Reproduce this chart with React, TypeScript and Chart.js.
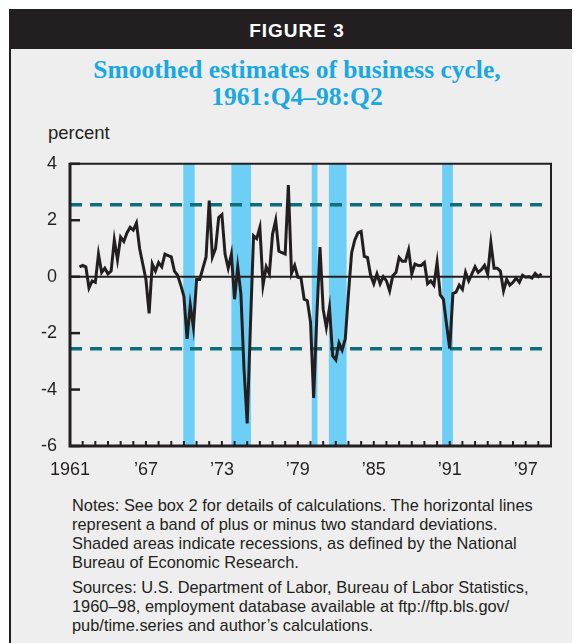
import React, { useEffect, useRef } from "react";
import { Chart, registerables } from "chart.js";

Chart.register(...registerables);

// ---- data ----
const startYear = 1961.75; // 1961:Q4
const quarterStep = 0.25;
const cycleValues = [
  0.35, 0.4, 0.35, -0.4, -0.15, -0.2, 0.8, 0.15, 0.3, 0.1,
  0.2, 1.3, 0.6, 1.4, 1.25, 1.55, 1.75, 1.65, 1.9, 1.0,
  0.45, -0.1, -1.3, 0.45, 0.2, 0.5, 0.35, 0.8, 0.75, 0.7,
  0.2, 0.05, -0.3, -0.7, -2.2, -1.0, -1.8, -0.1, -0.1, 0.3,
  0.7, 2.7, 0.7, 1.0, 2.1, 2.2, 0.8, 0.3, 0.8, -0.8,
  0.35, -0.6, -3.3, -5.2, -1.8, 1.45, 1.35, 1.75, -0.3, 0.35,
  0.1, 1.5, 2.0, 0.9, 0.85, 0.8, 3.25, 0.12, 0.4, -0.02,
  -0.05, -0.8, -0.85, -1.6, -4.3, -1.4, 1.05, -1.15, -1.8, -1.1,
  -2.8, -2.95, -2.35, -2.6, -2.2, -0.6, 0.85, 1.3, 1.55, 1.6,
  0.72, 0.68, 0.05, -0.25, 0.1, -0.25, 0.0, -0.15, -0.5, 0.03,
  0.15, 0.68, 0.55, 0.55, 0.95, 0.1, 0.45, 0.4, 0.4, 0.5,
  -0.25, -0.15, -0.3, 0.5, -0.65, -0.8, -1.7, -2.55, -0.6, -0.55,
  -0.3, -0.45, 0.15, -0.15, 0.1, 0.35, 0.15, 0.25, 0.4, 0.1,
  1.2, 0.3, 0.3, 0.2, -0.5, -0.1, -0.3, -0.2, -0.05, -0.2,
  0.05, -0.02, 0.0, -0.05, 0.12, 0.0, 0.1,
];
const recessionStarts = [1969.95, 1973.75, 1980.1, 1981.45, 1990.4];
const recessionEnds = [1970.85, 1975.3, 1980.55, 1982.85, 1991.25];
const bandLevel = 2.55;
const xMin = 1961;
const xMax = 1999;
const xTickYears = [1961, 1967, 1973, 1979, 1985, 1991, 1997];
const yMin = -6;
const yMax = 4;
const yStep = 2;

const notesLines = [
  "Notes: See box 2 for details of calculations. The horizontal lines",
  "represent a band of plus or minus two standard deviations.",
  "Shaded areas indicate recessions, as defined by the National",
  "Bureau of Economic Research.",
];
const sourcesLines = [
  "Sources: U.S. Department of Labor, Bureau of Labor Statistics,",
  "1960\u201398, employment database available at ftp://ftp.bls.gov/",
  "pub/time.series and author\u2019s calculations.",
];

const INK = "#231f20";
const SANS = "'Liberation Sans', Arial, sans-serif";

const framePlugin = {
  id: "frame",
  beforeDatasetsDraw(chart: any) {
    const { ctx, chartArea, scales } = chart;
    const { left, right, top, bottom } = chartArea;
    const x = scales.x;
    const y = scales.y;
    ctx.save();
    ctx.fillStyle = "#6dcff6";
    recessionStarts.forEach((s, i) => {
      const xa = x.getPixelForValue(s);
      const xb = x.getPixelForValue(recessionEnds[i]);
      ctx.fillRect(xa, top, xb - xa, bottom - top);
    });
    const y0 = y.getPixelForValue(0);
    ctx.strokeStyle = INK;
    ctx.lineWidth = 2;
    ctx.beginPath();
    ctx.moveTo(left, y0);
    ctx.lineTo(right, y0);
    ctx.stroke();
    ctx.restore();
  },
  afterDatasetsDraw(chart: any) {
    const { ctx, chartArea, scales } = chart;
    const { left, right, top, bottom } = chartArea;
    const x = scales.x;
    const y = scales.y;
    ctx.save();
    ctx.strokeStyle = INK;
    ctx.lineWidth = 2;
    ctx.beginPath();
    ctx.moveTo(left, top);
    ctx.lineTo(right, top);
    ctx.lineTo(right, bottom);
    ctx.stroke();
    ctx.lineWidth = 3;
    ctx.beginPath();
    ctx.moveTo(left, top - 1);
    ctx.lineTo(left, bottom);
    ctx.lineTo(right + 1, bottom);
    ctx.stroke();
    ctx.lineWidth = 2.5;
    for (let v = yMin; v <= yMax; v += yStep) {
      const py = y.getPixelForValue(v);
      ctx.beginPath();
      ctx.moveTo(left, py);
      ctx.lineTo(left + 10, py);
      ctx.stroke();
    }
    ctx.lineWidth = 2;
    for (let yr = xMin + 1; yr < xMax; yr++) {
      const px = x.getPixelForValue(yr);
      ctx.beginPath();
      ctx.moveTo(px, bottom);
      ctx.lineTo(px, bottom - 5);
      ctx.stroke();
    }
    ctx.restore();
  },
};

function CycleChart() {
  const ref = useRef<HTMLCanvasElement | null>(null);
  useEffect(() => {
    if (!ref.current) return;
    const points = cycleValues.map((v, i) => ({ x: startYear + i * quarterStep, y: v }));
    const band = (lvl: number) => [
      { x: xMin, y: lvl },
      { x: xMax, y: lvl },
    ];
    const chart = new Chart(ref.current, {
      type: "line",
      data: {
        datasets: [
          {
            data: points,
            borderColor: INK,
            borderWidth: 3,
            pointRadius: 0,
            tension: 0,
            fill: false,
          },
          {
            data: band(bandLevel),
            borderColor: "#0f6e7c",
            borderWidth: 3.5,
            borderDash: [12, 8],
            pointRadius: 0,
            fill: false,
          },
          {
            data: band(-bandLevel),
            borderColor: "#0f6e7c",
            borderWidth: 3.5,
            borderDash: [12, 8],
            pointRadius: 0,
            fill: false,
          },
        ],
      },
      options: {
        responsive: false,
        animation: false,
        events: [],
        layout: { padding: { left: 0, right: 24, top: 20, bottom: 4 } },
        plugins: { legend: { display: false }, tooltip: { enabled: false } },
        scales: {
          x: {
            type: "linear",
            min: xMin,
            max: xMax,
            afterBuildTicks: (s: any) => {
              s.ticks = xTickYears.map((v) => ({ value: v }));
            },
            afterFit: (s: any) => {
              s.height = 40;
            },
            grid: { display: false, drawTicks: false },
            border: { display: false },
            ticks: {
              padding: 13,
              autoSkip: false,
              maxRotation: 0,
              color: INK,
              font: { family: SANS, size: 18 },
              callback: (v: any) => (v === 1961 ? "1961" : "\u2019" + String(v).slice(2)),
            },
          },
          y: {
            min: yMin,
            max: yMax,
            afterFit: (s: any) => {
              s.width = 70;
            },
            grid: { display: false, drawTicks: false },
            border: { display: false },
            ticks: {
              stepSize: yStep,
              padding: 13,
              color: INK,
              font: { family: SANS, size: 18 },
              callback: (v: any) => String(v),
            },
          },
        },
      },
      plugins: [framePlugin],
    });
    return () => chart.destroy();
  }, []);
  return (
    <canvas
      ref={ref}
      width={575}
      height={350}
      style={{ position: "absolute", left: 0, top: 140, width: 575, height: 350 }}
    />
  );
}

export default function App() {
  return (
    <div
      style={{
        position: "absolute",
        left: 0,
        top: 0,
        width: 575,
        height: 643,
        background: "#ffffff",
        overflow: "hidden",
      }}
    >
      <div
        style={{
          position: "absolute",
          left: 9,
          top: 49,
          width: 561,
          height: 594,
          background: "#eeeeee",
          borderLeft: `2px solid ${INK}`,
        }}
      />
      <div
        style={{
          position: "absolute",
          left: 9,
          top: 9,
          width: 563,
          height: 40,
          background: INK,
        }}
      />
      <div
        style={{
          position: "absolute",
          left: 0,
          top: 20.7,
          width: 594,
          textAlign: "center",
          color: "#ffffff",
          fontFamily: SANS,
          fontWeight: 700,
          fontSize: 19,
          lineHeight: "19px",
          letterSpacing: 1,
        }}
      >
        FIGURE 3
      </div>
      <div
        style={{
          position: "absolute",
          left: 0,
          top: 55.9,
          width: 594,
          textAlign: "center",
          color: "#19a8e0",
          fontFamily: "'Liberation Serif', 'Times New Roman', serif",
          fontWeight: 700,
          fontSize: 25.5,
          lineHeight: "27px",
        }}
      >
        <div>Smoothed estimates of business cycle,</div>
        <div>1961:Q4–98:Q2</div>
      </div>
      <div
        style={{
          position: "absolute",
          left: 48,
          top: 124.3,
          color: INK,
          fontFamily: SANS,
          fontSize: 18.5,
          lineHeight: "18.5px",
        }}
      >
        percent
      </div>
      <CycleChart />
      <div
        style={{
          position: "absolute",
          left: 72,
          top: 495.8,
          color: INK,
          fontFamily: SANS,
          fontSize: 16.4,
          lineHeight: "19px",
          whiteSpace: "nowrap",
        }}
      >
        {notesLines.map((l, i) => (
          <div key={i}>{l}</div>
        ))}
      </div>
      <div
        style={{
          position: "absolute",
          left: 72,
          top: 578,
          color: INK,
          fontFamily: SANS,
          fontSize: 16.4,
          lineHeight: "19px",
          whiteSpace: "nowrap",
        }}
      >
        {sourcesLines.map((l, i) => (
          <div key={i}>{l}</div>
        ))}
      </div>
    </div>
  );
}
